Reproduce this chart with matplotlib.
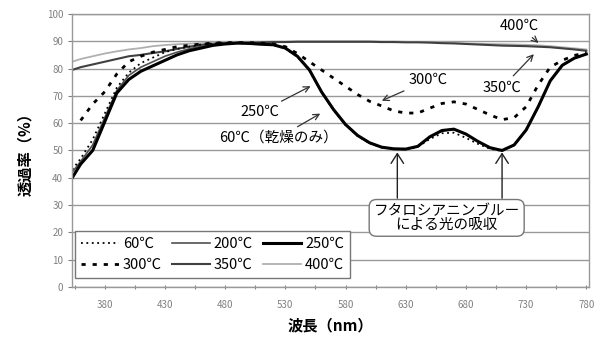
import matplotlib
matplotlib.use('Agg')
import matplotlib.pyplot as plt

plt.rcParams['font.family'] = ['Noto Sans CJK JP', 'DejaVu Sans']

# wavelength (nm) for every series
wl = [353, 360, 370, 380, 390, 400, 410, 420, 430, 440, 450, 460, 470, 480, 490,
      500, 510, 520, 530, 540, 550, 560, 570, 580, 590, 600, 610, 620, 630, 640,
      650, 660, 670, 680, 690, 700, 710, 720, 730, 740, 750, 760, 770, 780]

# transmittance (%)
t60 = [43, 47, 54, 63.5, 73, 78.5, 82, 84, 86, 87.2, 88, 88.8, 89.2, 89.4, 89.5,
       89.4, 89, 88.6, 87.3, 84.3, 79.3, 71.3, 64.8, 59.3, 55.3, 52.6, 51.1, 50.5, 50.4, 51.3,
       54.2, 56.3, 56.5, 54.6, 52.4, 50.6, 49.8, 52, 57.5, 66, 75.5, 81.2, 83.8, 85.3]
t200 = [42, 46, 52, 62, 72, 77.5, 80.5, 82.5, 84.5, 86, 87.2, 88.2, 89, 89.4, 89.5,
        89.4, 89, 88.8, 87.4, 84.4, 79.4, 71.4, 64.9, 59.4, 55.4, 52.7, 51.1, 50.5, 50.4, 51.4,
        54.8, 57.2, 57.7, 56, 53.2, 50.9, 49.9, 51.9, 57.4, 65.9, 75.4, 81.1, 83.8, 85.3]
t250 = [40, 45, 50, 60.5, 71, 76, 79, 81, 83, 85, 86.5, 87.5, 88.5, 89, 89.3,
        89.2, 88.9, 88.7, 87.5, 84.5, 79.5, 71.5, 65, 59.5, 55.5, 52.8, 51.2, 50.6, 50.5, 51.5,
        55, 57.3, 57.8, 56, 53.3, 51, 50, 52, 57.5, 66, 75.5, 81.2, 83.8, 85.3]
t300 = [None, 61, 67, 71.5, 78, 82.5, 84.5, 86, 87, 88, 88.5, 89, 89.3, 89.5, 89.5,
        89.5, 89.3, 89, 88, 85.5, 82.5, 79.5, 76.5, 73.5, 70.5, 68, 66.3, 64.5, 63.7, 63.7,
        65.5, 67.2, 67.8, 67, 65, 63, 61.3, 62, 66, 74, 80.5, 83, 84.8, 85.8]
t350 = [79.5, 80.5, 81.5, 82.5, 83.5, 84.5, 85, 85.7, 86.3, 87.2, 88, 88.6, 89, 89.3, 89.4,
        89.5, 89.6, 89.7, 89.7, 89.8, 89.8, 89.8, 89.8, 89.8, 89.8, 89.8, 89.7, 89.7, 89.6, 89.6,
        89.5, 89.3, 89.2, 89, 88.8, 88.6, 88.4, 88.3, 88.2, 88, 87.8, 87.4, 87, 86.5]
t400 = [82.5, 83.5, 84.5, 85.5, 86.3, 87, 87.5, 88.2, 88.6, 88.9, 89.1, 89.3, 89.5, 89.6, 89.7,
        89.8, 89.8, 89.9, 89.9, 90, 90, 90, 90, 90, 90, 90, 89.9, 89.9, 89.8, 89.7,
        89.6, 89.5, 89.4, 89.2, 89.1, 89, 88.9, 88.8, 88.7, 88.5, 88.2, 87.8, 87.4, 87]

labels = ['60℃', '200℃', '250℃', '300℃', '350℃', '400℃']
y_ticks = list(range(0, 101, 10))
x_labels = [380, 430, 480, 530, 580, 630, 680, 730, 780]

fig = plt.figure(figsize=(6.02, 3.4), dpi=100)
ax = fig.add_axes([0.12, 0.156, 0.858, 0.803])

ax.plot(wl, t400, color='#b0b0b0', lw=1.3, label=labels[5])
ax.plot(wl, t350, color='#404040', lw=1.5, label=labels[4])
ax.plot(wl, t200, color='#505050', lw=1.2, label=labels[1])
ax.plot(wl, t60, color='black', lw=1.3, ls=(0, (1, 2)), label=labels[0])
ax.plot(wl, t250, color='black', lw=2.2, label=labels[2])
ax.plot(wl, t300, color='black', lw=2.0, ls=(0, (1.5, 2.5)), label=labels[3])

ax.set_xlim(353, 782)
ax.set_ylim(0, 100)
ax.set_yticks(y_ticks)
ax.set_xticks(list(range(355, 781, 25)))
ax.set_xticklabels([str(v) if v in x_labels else '' for v in range(355, 781, 25)])
ax.tick_params(axis='both', labelsize=7, labelcolor='#808080', color='#808080',
               length=3, width=0.8)
ax.tick_params(axis='x', direction='inout', pad=8)
ax.grid(axis='y', color='#999999', lw=1.0)
ax.set_axisbelow(True)
for s in ax.spines.values():
    s.set_color('#999999')
    s.set_linewidth(1.0)

ax.set_xlabel('波長（nm）', fontsize=11, fontweight='bold', labelpad=5)
ax.set_ylabel('透過率（%）', fontsize=11, fontweight='bold', labelpad=10)

# legend: row-wise 60/200/250 then 300/350/400 (matplotlib fills by column)
handles, lbls = ax.get_legend_handles_labels()
col_order = ['60℃', '300℃', '200℃', '350℃', '250℃', '400℃']
order = [lbls.index(l) for l in col_order]
leg = ax.legend([handles[i] for i in order], [lbls[i] for i in order], ncol=3,
                loc='lower left', bbox_to_anchor=(0.005, 0.033, 0.533, 0.223),
                mode='expand', fancybox=False, edgecolor='#777777', fontsize=10.5,
                handlelength=2.6, handletextpad=0.3, columnspacing=0.6,
                borderaxespad=0, framealpha=1)
leg.get_frame().set_linewidth(1.0)

arrow = dict(arrowstyle='->', color='#333333', lw=0.9)
ax.annotate('400℃', xy=(742, 88.7), xytext=(724, 95.6), ha='center', va='center',
            fontsize=10.5, arrowprops=arrow)
ax.annotate('350℃', xy=(738, 86), xytext=(710, 73), ha='center', va='center',
            fontsize=10.5, arrowprops=arrow)
ax.annotate('300℃', xy=(608, 67.8), xytext=(649, 75.8), ha='center', va='center',
            fontsize=10.5, arrowprops=arrow)
ax.annotate('250℃', xy=(553, 74), xytext=(509, 64), ha='center', va='center',
            fontsize=10.5, arrowprops=arrow)
ax.annotate('60℃（乾燥のみ）', xy=(561, 64), xytext=(524, 54.6), ha='center', va='center',
            fontsize=10.5, arrowprops=arrow)

# absorption note with two upward arrows
big_arrow = dict(arrowstyle='->,head_width=0.45,head_length=0.7', color='#222222', lw=1.0,
                 shrinkA=0, shrinkB=0)
for xm in [623, 710]:
    ax.annotate('', xy=(xm, 49.3), xytext=(xm, 32.5), arrowprops=big_arrow)
ax.text(664, 25.3, 'フタロシアニンブルー\nによる光の吸収', ha='center', va='center',
        fontsize=10.5, linespacing=1.0,
        bbox=dict(boxstyle='round,pad=0.3,rounding_size=0.5', fc='white', ec='#777777', lw=1.0))

fig.savefig('out.png', dpi=100)
